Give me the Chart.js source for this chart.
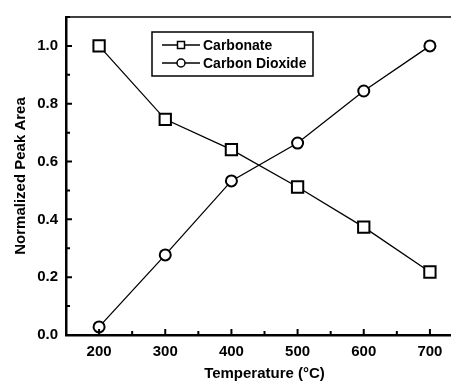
<!DOCTYPE html>
<html>
<head>
<meta charset="utf-8">
<script src="https://cdn.jsdelivr.net/npm/chart.js@4"></script>
<style>
  html, body { margin: 0; padding: 0; background: #fff; overflow: hidden; }
  #wrap { width: 480px; height: 383px; }
</style>
</head>
<body>
<div id="wrap"><canvas id="chart"></canvas></div>
<script>
const temperatures = [200, 300, 400, 500, 600, 700];
const carbonate = [1.0, 0.746, 0.641, 0.512, 0.373, 0.218];
const carbonDioxide = [0.028, 0.277, 0.533, 0.664, 0.844, 1.0];
const yTicks = [0, 0.2, 0.4, 0.6, 0.8, 1.0];
const xTicks = [200, 300, 400, 500, 600, 700];

const FONT = "'Liberation Sans', Arial, sans-serif";

// inward ticks, top border and the boxed legend
const frame = {
  id: 'frame',
  afterDraw(chart) {
    const ctx = chart.ctx, a = chart.chartArea;
    const xs = chart.scales.x, ys = chart.scales.y;
    ctx.save();
    ctx.strokeStyle = '#000';
    ctx.lineWidth = 1.5;
    ctx.beginPath();
    ctx.moveTo(a.left, a.top);
    ctx.lineTo(a.right, a.top);
    ctx.stroke();

    ctx.lineWidth = 2;
    ctx.beginPath();
    for (let v = 150; v <= 750; v += 50) {
      const px = xs.getPixelForValue(v);
      const len = v % 100 === 0 ? 6 : 4;
      ctx.moveTo(px, a.bottom);
      ctx.lineTo(px, a.bottom - len);
    }
    for (let i = 0; i <= 11; i++) {
      const v = i / 10;
      const py = ys.getPixelForValue(v);
      const len = i % 2 === 0 ? 6 : 4;
      ctx.moveTo(a.left, py);
      ctx.lineTo(a.left + len, py);
    }
    ctx.stroke();

    // legend
    const bx = 152, by = 32, bw = 161, bh = 44;
    ctx.lineWidth = 1.5;
    ctx.strokeRect(bx, by, bw, bh);
    const rows = [
      { label: 'Carbonate', style: 'rect', y: 45 },
      { label: 'Carbon Dioxide', style: 'circle', y: 63 }
    ];
    ctx.font = 'bold 14px ' + FONT;
    ctx.fillStyle = '#000';
    ctx.textBaseline = 'middle';
    rows.forEach(r => {
      ctx.lineWidth = 1.5;
      ctx.beginPath();
      ctx.moveTo(162, r.y);
      ctx.lineTo(200, r.y);
      ctx.stroke();
      ctx.fillStyle = '#fff';
      ctx.beginPath();
      if (r.style === 'rect') {
        ctx.rect(177.5, r.y - 3.5, 7, 7);
      } else {
        ctx.arc(181, r.y, 4, 0, Math.PI * 2);
      }
      ctx.fill();
      ctx.stroke();
      ctx.fillStyle = '#000';
      ctx.fillText(r.label, 203, r.y + 1);
    });
    ctx.restore();
  }
};

const markerStyle = {
  borderColor: '#000',
  borderWidth: 1.3,
  pointBackgroundColor: '#fff',
  pointBorderColor: '#000',
  pointBorderWidth: 2,
  fill: false,
  tension: 0
};

new Chart(document.getElementById('chart'), {
  type: 'line',
  data: {
    datasets: [{
      label: 'Carbonate',
      data: temperatures.map((t, i) => ({ x: t, y: carbonate[i] })),
      pointStyle: 'rect',
      pointRadius: 8,
      ...markerStyle
    }, {
      label: 'Carbon Dioxide',
      data: temperatures.map((t, i) => ({ x: t, y: carbonDioxide[i] })),
      pointStyle: 'circle',
      pointRadius: 5.5,
      ...markerStyle
    }]
  },
  options: {
    responsive: true,
    maintainAspectRatio: false,
    animation: false,
    layout: { padding: { top: 11, right: 17, left: 0, bottom: 0 } },
    plugins: {
      legend: { display: false },
      tooltip: { enabled: false }
    },
    scales: {
      x: {
        type: 'linear',
        min: 150,
        max: 750,
        afterBuildTicks: s => { s.ticks = xTicks.map(v => ({ value: v })); },
        afterFit: s => { s.height = 48; },
        grid: { display: false, drawTicks: false },
        border: { display: true, color: '#000', width: 2.5 },
        ticks: {
          color: '#000',
          padding: 8,
          maxRotation: 0,
          font: { family: FONT, size: 15, weight: 'bold' }
        },
        title: {
          display: true,
          text: 'Temperature (°C)',
          color: '#000',
          padding: { top: 6, bottom: 0 },
          font: { family: FONT, size: 15, weight: 'bold' }
        }
      },
      y: {
        min: 0,
        max: 1.1,
        afterBuildTicks: s => { s.ticks = yTicks.map(v => ({ value: v })); },
        afterFit: s => { s.width = 66; },
        grid: { display: false, drawTicks: false },
        border: { display: true, color: '#000', width: 2.5 },
        ticks: {
          color: '#000',
          padding: 8,
          callback: v => v.toFixed(1),
          font: { family: FONT, size: 15, weight: 'bold' }
        },
        title: {
          display: true,
          text: 'Normalized Peak Area',
          color: '#000',
          padding: { top: 12, bottom: 0 },
          font: { family: FONT, size: 15, weight: 'bold' }
        }
      }
    }
  },
  plugins: [frame]
});
</script>
</body>
</html>
